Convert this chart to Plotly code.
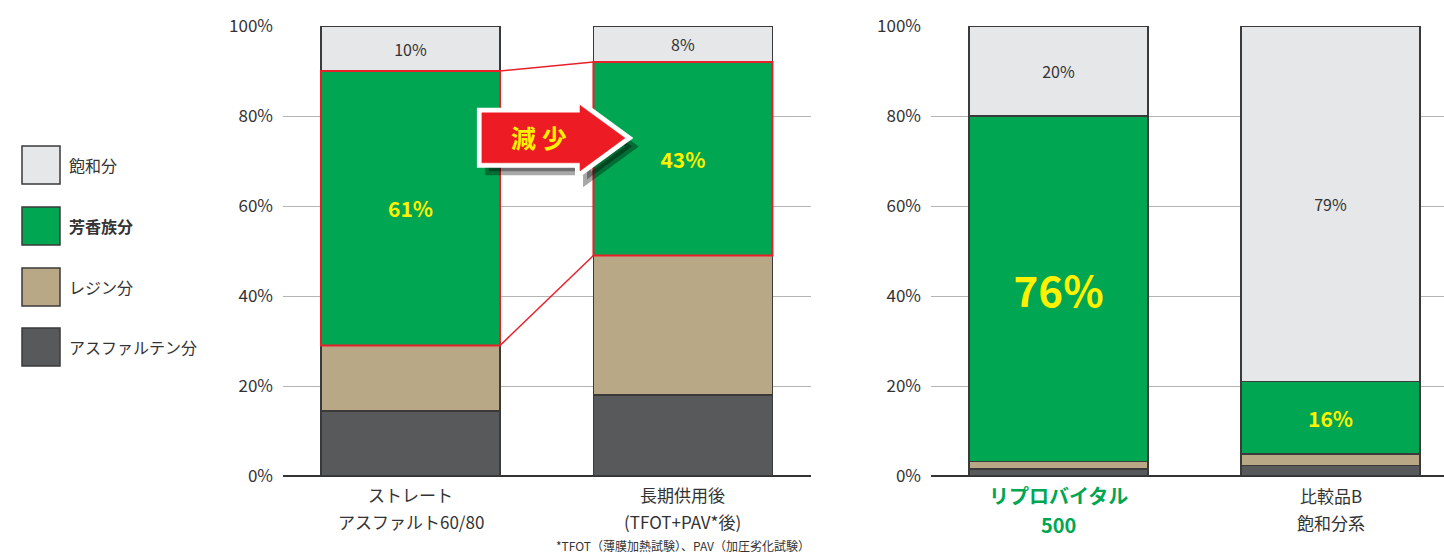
import plotly.graph_objects as go

# ---------------- data ----------------
components = ["アスファルテン分", "レジン分", "芳香族分", "飽和分"]
colors = ["#58595B", "#B8A886", "#00A651", "#E6E7E8"]

left_categories = [["ストレート", "アスファルト60/80"], ["長期供用後", "(TFOT+PAV*後)"]]
left_values = {
    "アスファルテン分": [14.5, 18.0],
    "レジン分": [14.5, 31.0],
    "芳香族分": [61.0, 43.0],
    "飽和分": [10.0, 8.0],
}
left_labels = {
    "アスファルテン分": ["", ""],
    "レジン分": ["", ""],
    "芳香族分": ["61%", "43%"],
    "飽和分": ["10%", "8%"],
}

right_categories = [["リプロバイタル", "500"], ["比較品B", "飽和分系"]]
right_values = {
    "アスファルテン分": [1.6, 2.3],
    "レジン分": [1.6, 2.6],
    "芳香族分": [76.8, 16.1],
    "飽和分": [20.0, 79.0],
}
right_labels = {
    "アスファルテン分": ["", ""],
    "レジン分": ["", ""],
    "芳香族分": ["76%", "16%"],
    "飽和分": ["20%", "79%"],
}

y_ticks = [0, 20, 40, 60, 80, 100]
y_ticktext = [f"{t}%" for t in y_ticks]
footnote = "*TFOT（薄膜加熱試験）、PAV（加圧劣化試験）"
arrow_text = "減 少"

# ---------------- style ----------------
FONT = "Noto Sans CJK JP"
TXT = "#333333"
YELLOW = "#FFF200"
RED = "#E8202A"
W, H = 1444, 555
TOP, BOT = 26, 476
BAR_W = 0.657

label_style = {
    "61%": (21, YELLOW), "43%": (21, YELLOW), "76%": (42, YELLOW), "16%": (21, YELLOW),
    "10%": (16, TXT), "8%": (16, TXT), "20%": (16, TXT), "79%": (16, TXT), "": (12, TXT),
}

fig = go.Figure()


def add_bars(values, labels, xa, ya):
    for comp, col in zip(components, colors):
        txt = labels[comp]
        shown = [f"<b>{t}</b>" if label_style[t][1] == YELLOW else t for t in txt]
        fig.add_trace(go.Bar(
            x=[0, 1], y=values[comp], xaxis=xa, yaxis=ya,
            width=BAR_W, marker=dict(color=col, line=dict(color="#3A3A3A", width=1.5)),
            text=shown, textposition="inside", insidetextanchor="middle",
            constraintext="none", textangle=0,
            textfont=dict(family=FONT, size=[label_style[t][0] for t in txt],
                          color=[label_style[t][1] for t in txt]),
            showlegend=False, hoverinfo="skip",
        ))


add_bars(left_values, left_labels, "x", "y")
add_bars(right_values, right_labels, "x2", "y2")


def px2paper_x(px):
    return px / W


def px2paper_y(py):
    return (BOT - py) / (BOT - TOP)


axis_common = dict(range=[0, 100], tickvals=y_ticks, ticktext=y_ticktext,
                   showgrid=True, gridcolor="#B4B4B4", gridwidth=1,
                   zeroline=True, zerolinecolor="#333333", zerolinewidth=1.5,
                   showline=False, ticks="", ticklabelstandoff=9,
                   tickfont=dict(family=FONT, size=17, color=TXT))

fig.update_layout(
    width=W, height=H,
    margin=dict(l=0, r=0, t=TOP, b=H - BOT),
    paper_bgcolor="white", plot_bgcolor="white",
    barmode="stack",
    xaxis=dict(domain=[px2paper_x(283), px2paper_x(811)], range=[-0.468, 1.47],
               showticklabels=False, showgrid=False, zeroline=False, fixedrange=True),
    xaxis2=dict(domain=[px2paper_x(931), 1.0], range=[-0.469, 1.417],
                showticklabels=False, showgrid=False, zeroline=False, fixedrange=True),
    yaxis=dict(anchor="x", **axis_common),
    yaxis2=dict(anchor="x2", **axis_common),
)

shapes = []
annotations = []

# ---- red highlight of aromatic share (left chart) ----
arom_idx = components.index("芳香族分")
bottoms = [sum(left_values[c][i] for c in components[:arom_idx]) for i in range(2)]
tops = [bottoms[i] + left_values["芳香族分"][i] for i in range(2)]
hw = BAR_W / 2
for i in range(2):
    shapes.append(dict(type="rect", xref="x", yref="y", x0=i - hw, x1=i + hw,
                       y0=bottoms[i], y1=tops[i], line=dict(color=RED, width=2),
                       fillcolor="rgba(0,0,0,0)", layer="above"))
shapes.append(dict(type="line", xref="x", yref="y", x0=hw, x1=1 - hw, y0=tops[0], y1=tops[1],
                   line=dict(color=RED, width=1.5)))
shapes.append(dict(type="line", xref="x", yref="y", x0=hw, x1=1 - hw, y0=bottoms[0], y1=bottoms[1],
                   line=dict(color=RED, width=1.5)))

# ---- arrow "減少" ----
def arrow_path(dx=0.0, dy=0.0):
    pts = [(0.262, 80.7), (0.622, 80.7), (0.622, 82.4), (0.787, 75.1),
           (0.622, 67.8), (0.622, 69.6), (0.262, 69.6)]
    return "M " + " L ".join(f"{x + dx},{y + dy}" for x, y in pts) + " Z"


shapes.append(dict(type="path", xref="x", yref="y", path=arrow_path(0.026, -1.9),
                   fillcolor="rgba(0,0,0,0.34)", line=dict(color="rgba(0,0,0,0.34)", width=8)))
shapes.append(dict(type="path", xref="x", yref="y", path=arrow_path(),
                   fillcolor="white", line=dict(color="white", width=10)))
shapes.append(dict(type="path", xref="x", yref="y", path=arrow_path(),
                   fillcolor="#ED1C24", line=dict(color="#ED1C24", width=0.5)))
annotations.append(dict(xref="x", yref="y", x=0.472, y=75.3, text=f"<b>{arrow_text}</b>",
                        showarrow=False, font=dict(family=FONT, size=25, color=YELLOW)))

# ---- custom legend ----
legend_order = ["飽和分", "芳香族分", "レジン分", "アスファルテン分"]
legend_centers = [165, 226, 287, 347]
for name, cy in zip(legend_order, legend_centers):
    col = colors[components.index(name)]
    shapes.append(dict(type="rect", xref="paper", yref="paper",
                       x0=px2paper_x(22), x1=px2paper_x(60),
                       y0=px2paper_y(cy + 19), y1=px2paper_y(cy - 19),
                       fillcolor=col, line=dict(color="#3A3A3A", width=1.5)))
    label = f"<b>{name}</b>" if name == "芳香族分" else name
    annotations.append(dict(xref="paper", yref="paper", x=px2paper_x(67), y=px2paper_y(cy),
                            xanchor="left", yanchor="middle", text=label, showarrow=False,
                            font=dict(family=FONT, size=16, color=TXT)))

# ---- category labels ----
for i, (l1, l2) in enumerate(left_categories):
    for line, py in ((l1, 494), (l2, 521)):
        annotations.append(dict(xref="x", yref="paper", x=i, y=px2paper_y(py), text=line,
                                showarrow=False, yanchor="middle",
                                font=dict(family=FONT, size=17, color=TXT)))
for i, (l1, l2) in enumerate(right_categories):
    if i == 0:
        split = px2paper_y(509.5)
        for line, anchor in ((l1, "bottom"), (l2, "top")):
            annotations.append(dict(xref="x2", yref="paper", x=i, y=split,
                                    text=f"<b>{line}</b>", showarrow=False, yanchor=anchor,
                                    borderpad=0, borderwidth=0,
                                    font=dict(family=FONT, size=20, color="#00A651")))
    else:
        for line, py in ((l1, 495), (l2, 522)):
            annotations.append(dict(xref="x2", yref="paper", x=i, y=px2paper_y(py), text=line,
                                    showarrow=False, yanchor="middle",
                                    font=dict(family=FONT, size=17, color=TXT)))

annotations.append(dict(xref="paper", yref="paper", x=px2paper_x(812), y=px2paper_y(545.5),
                        xanchor="right", yanchor="middle", text=footnote, showarrow=False,
                        font=dict(family=FONT, size=12, color=TXT)))

fig.update_layout(shapes=shapes, annotations=annotations)
fig.write_html("out.html")
